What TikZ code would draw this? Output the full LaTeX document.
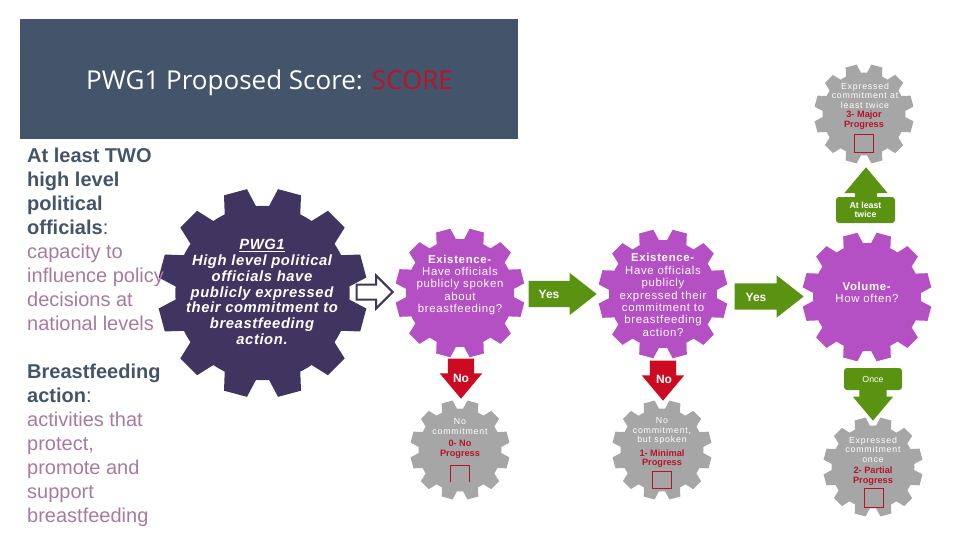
\documentclass[tikz,border=0pt]{standalone}
\usepackage{fontspec}
\setmainfont{Liberation Sans}
\newfontfamily\titlefont{Open Sans}
\usetikzlibrary{shapes.arrows}

\definecolor{slate}{HTML}{44546A}
\definecolor{mauve}{HTML}{A67B9F}
\definecolor{darkgear}{HTML}{3F3560}
\definecolor{purplegear}{HTML}{B44FC4}
\definecolor{greygear}{HTML}{A6A6A6}
\definecolor{greenarrow}{HTML}{5A9312}
\definecolor{redarrow}{HTML}{CC0A22}
\definecolor{scorered}{HTML}{B5142B}

\tikzset{
  geartext/.style={text=white, align=center, inner sep=0pt},
  bigtext/.style={geartext, font=\fontsize{14.8}{15.7}\selectfont\bfseries\itshape\addfontfeature{LetterSpace=4}},
  midtext/.style={geartext, font=\fontsize{11.4}{12.4}\selectfont\addfontfeature{LetterSpace=6}},
  smalltext/.style={geartext, font=\fontsize{8.8}{9.5}\selectfont\addfontfeature{LetterSpace=9}},
  progtext/.style={geartext, font=\fontsize{9.2}{9.5}\selectfont},
  blockarrow/.style={single arrow, anchor=tip, inner sep=0pt, single arrow head extend=8pt},
  arrowbox/.style={rectangle, rounded corners=3pt, fill=greenarrow, text=white, align=center, inner sep=0pt},
  arrowtext/.style={text=white, inner sep=0pt, font=\fontsize{12}{14}\selectfont\bfseries},
  scorebox/.style={draw=scorered, line width=0.8pt}
}

\newcommand{\gear}[4]{
  \node (#1) [circle, fill=#4, inner sep=0pt, minimum size={1.66*#3 pt}] at (#2) {};
  \foreach \a in {15,45,...,345} {
    \fill[#4, shift={(#1)}] (\a-11:0.82*#3) -- (\a-6.5:#3) -- (\a+6.5:#3) -- (\a+11:0.82*#3) -- cycle;
  }
}
\newcommand{\red}[1]{\textcolor{scorered}{\textbf{#1}}}

\begin{document}
\begin{tikzpicture}[x=1pt, y=-1pt]
\useasboundingbox (0,0) rectangle (960,540);

\node (header) [rectangle, fill=slate, minimum width=498pt, minimum height=120pt, anchor=north west] at (20,19) {};
\node (title) [text=white, inner sep=0pt, font=\titlefont\fontsize{26}{30}\selectfont] at (269.5,83) {PWG1 Proposed Score: \textcolor{scorered}{SCORE}};

\gear{pwg}{262.5,293}{105}{darkgear}
\gear{exista}{460,293}{65}{purplegear}
\gear{existb}{663,294}{65}{purplegear}
\gear{volume}{867,297}{65}{purplegear}
\gear{none}{460,450}{50}{greygear}
\gear{minimal}{662,450}{50}{greygear}
\gear{partial}{873,467}{50}{greygear}
\gear{major}{864,114}{50}{greygear}

\node (leftnotes) [anchor=north west, inner sep=0pt, align=left, text=mauve, font=\fontsize{20}{24}\selectfont] at (27,148) {%
  \textcolor{slate}{\textbf{At least TWO}}\\
  \textcolor{slate}{\textbf{high level}}\\
  \textcolor{slate}{\textbf{political}}\\
  \textcolor{slate}{\textbf{officials}:}\\
  capacity to\\
  influence policy\\
  decisions at\\
  national levels\\[24pt]
  \textcolor{slate}{\textbf{Breastfeeding}}\\
  \textcolor{slate}{\textbf{action}:}\\
  activities that\\
  protect,\\
  promote and\\
  support\\
  breastfeeding};

\node (pwgtext) [bigtext] at (262,292) {\underline{PWG1}\\High level political\\officials have\\publicly expressed\\their commitment to\\breastfeeding\\action.};
\node (existatext) [midtext] at (460,285) {\textbf{Existence-}\\Have officials\\publicly spoken\\about\\breastfeeding?};
\node (existbtext) [midtext] at (663,295) {\textbf{Existence-}\\Have officials\\publicly\\expressed their\\commitment to\\breastfeeding\\action?};
\node (volumetext) [midtext] at (867,292.5) {\textbf{Volume-}\\How often?};
\node (nonetext) [smalltext] at (460,426.5) {No\\commitment};
\node (noneprog) [progtext] at (460,449.5) {\red{0- No}\\\red{Progress}};
\node (minimaltext) [smalltext] at (662,431) {No\\commitment,\\but spoken};
\node (minimalprog) [progtext] at (662,458.5) {\red{1- Minimal}\\\red{Progress}};
\node (partialtext) [smalltext] at (873,449.5) {Expressed\\commitment\\once};
\node (partialprog) [progtext] at (873,476) {\red{2- Partial}\\\red{Progress}};
\node (majortext) [smalltext] at (865,95.5) {Expressed\\commitment at\\least twice};
\node (majorprog) [progtext] at (864,120) {\red{3- Major}\\\red{Progress}};

\draw[scorebox] (450,482) -- (450,465) -- (469,465) -- (469,482);
\draw[scorebox] (652,471) rectangle (671,488);
\draw[scorebox] (864,488) rectangle (883,507);
\draw[scorebox] (854,134) rectangle (873,152);

\node (hollow) [blockarrow, draw=darkgear, fill=white, line width=2pt, minimum height=36pt, single arrow head extend=9pt, single arrow tip angle=90] at (394,292) {\rule{0pt}{13pt}};
\node (yesa) [blockarrow, fill=greenarrow, minimum height=68pt, single arrow tip angle=76] at (597,294) {\rule{0pt}{26pt}};
\node (yesb) [blockarrow, fill=greenarrow, minimum height=69pt, single arrow tip angle=76] at (804,296.5) {\rule{0pt}{26pt}};
\node (noa) [blockarrow, fill=redarrow, minimum height=40pt, shape border rotate=270, single arrow tip angle=80] at (461,399) {\rule{26pt}{0pt}};
\node (nob) [blockarrow, fill=redarrow, minimum height=40pt, shape border rotate=270, single arrow tip angle=80] at (663,401) {\rule{26pt}{0pt}};
\node (oncearrow) [blockarrow, fill=greenarrow, minimum height=36pt, shape border rotate=270, single arrow tip angle=80, single arrow head extend=6.5pt] at (873,421) {\rule{27pt}{0pt}};
\node (twicearrow) [blockarrow, fill=greenarrow, minimum height=36pt, shape border rotate=90, single arrow tip angle=80, single arrow head extend=10.5pt] at (866,167) {\rule{22pt}{0pt}};
\node (oncebox) [arrowbox, minimum width=58pt, minimum height=22pt, font=\fontsize{8.8}{9.5}\selectfont] at (873,379) {Once};
\node (twicebox) [arrowbox, minimum width=59pt, minimum height=26pt, font=\fontsize{8.8}{9.5}\selectfont\bfseries] at (865.5,210) {At least\\twice};

\node (yesatext) [arrowtext] at (549,294.5) {Yes};
\node (yesbtext) [arrowtext] at (756,297.5) {Yes};
\node (notexta) [arrowtext] at (461,378.5) {No};
\node (notextb) [arrowtext] at (664,379.5) {No};
\end{tikzpicture}
\end{document}
